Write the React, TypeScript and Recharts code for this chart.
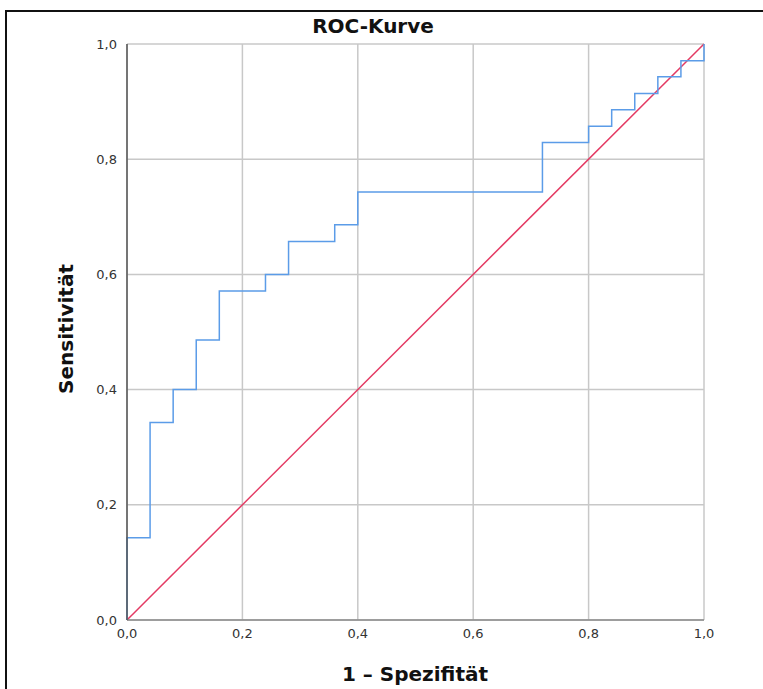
import React from 'react';
import { LineChart, Line, XAxis, YAxis, CartesianGrid } from 'recharts';

// 1 - Spezifität (false positive rate) at each step corner
const fpr = [0, 0, 0.04, 0.08, 0.12, 0.16, 0.24, 0.28, 0.36, 0.4, 0.72, 0.8, 0.84, 0.88, 0.92, 0.96, 1.0];
// Sensitivität reached after each step
const tpr = [0, 0.143, 0.343, 0.4, 0.486, 0.571, 0.6, 0.657, 0.686, 0.743, 0.829, 0.857, 0.886, 0.914, 0.943, 0.971, 1.0];
// reference line
const refX = [0, 1];
const refY = [0, 1];
const ticks = [0, 0.2, 0.4, 0.6, 0.8, 1.0];

const rocData = fpr.map((x, i) => ({ x, roc: tpr[i] }));
const refData = refX.map((x, i) => ({ x, ref: refY[i] }));

const fmt = (v: number) => v.toFixed(1).replace('.', ',');
const font = '"DejaVu Sans", sans-serif';

export default function App() {
  return (
    <div style={{ position: 'absolute', left: 0, top: 0, width: 763, height: 689, background: '#fff', fontFamily: font, overflow: 'hidden' }}>
      <div style={{ position: 'absolute', left: 5, top: 10, width: 800, height: 700, borderTop: '2px solid #111', borderLeft: '2px solid #111' }} />
      <div style={{ position: 'absolute', left: 273, width: 200, top: 14, textAlign: 'center', fontSize: 20, fontWeight: 'bold', color: '#111' }}>
        ROC-Kurve
      </div>
      <div style={{ position: 'absolute', left: 265, width: 300, top: 662, textAlign: 'center', fontSize: 20, fontWeight: 'bold', color: '#111' }}>
        1 – Spezifität
      </div>
      <div style={{ position: 'absolute', left: 66 - 100, top: 330 - 13, width: 200, textAlign: 'center', fontSize: 20, fontWeight: 'bold', color: '#111', transform: 'rotate(-90deg)' }}>
        Sensitivität
      </div>
      <LineChart width={763} height={689} margin={{ top: 44, right: 59, left: 0, bottom: 0 }} style={{ position: 'absolute', left: 0, top: 0 }}>
        <CartesianGrid stroke="#c8c8c8" strokeWidth={1.5} horizontalValues={ticks} verticalValues={ticks} />
        <XAxis
          type="number"
          dataKey="x"
          domain={[0, 1]}
          ticks={ticks}
          tickFormatter={fmt}
          height={69}
          tickLine={false}
          tickMargin={3}
          axisLine={{ stroke: '#8a8a8a', strokeWidth: 1.5 }}
          tick={{ fill: '#333', fontSize: 13, fontFamily: font }}
          allowDuplicatedCategory={false}
        />
        <YAxis
          type="number"
          domain={[0, 1]}
          ticks={ticks}
          tickFormatter={fmt}
          width={127}
          tickLine={false}
          tickMargin={4}
          axisLine={{ stroke: '#555', strokeWidth: 1.5 }}
          tick={{ fill: '#333', fontSize: 13, fontFamily: font }}
        />
        <Line data={refData} dataKey="ref" type="linear" stroke="#e43a63" strokeWidth={1.5} dot={false} isAnimationActive={false} />
        <Line data={rocData} dataKey="roc" type="stepAfter" stroke="#5b9ce8" strokeWidth={1.5} dot={false} isAnimationActive={false} />
      </LineChart>
    </div>
  );
}
